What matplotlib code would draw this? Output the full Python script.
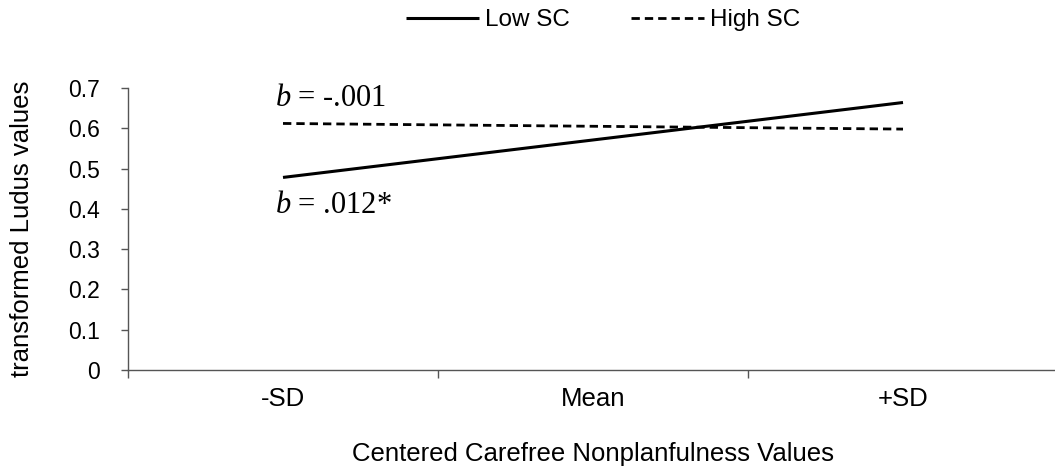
import numpy as np
import matplotlib
matplotlib.use("Agg")
import matplotlib.pyplot as plt

# values
categories = ["-SD", "Mean", "+SD"]
low_sc = [0.478, 0.571, 0.664]
high_sc = [0.612, 0.605, 0.598]
y_ticks = [0, 0.1, 0.2, 0.3, 0.4, 0.5, 0.6, 0.7]
y_tick_labels = ["0", "0.1", "0.2", "0.3", "0.4", "0.5", "0.6", "0.7"]
slope_low = "= .012*"
slope_high = "= -.001"

plt.rcParams['font.family'] = ['Liberation Sans', 'DejaVu Sans']
plt.rcParams['mathtext.fontset'] = 'custom'
plt.rcParams['mathtext.it'] = 'Liberation Serif:italic'
plt.rcParams['mathtext.rm'] = 'Liberation Serif'

fig = plt.figure(figsize=(10.55, 4.72), dpi=100)
ax = fig.add_axes([128/1055, 1 - 370/472, 930/1055, 282/472])

x = np.arange(len(categories))
ln_low, = ax.plot(x, low_sc, color='black', lw=2.2, solid_capstyle='butt', label="Low SC")
ln_high, = ax.plot(x, high_sc, color='black', lw=2.0, linestyle=(0, (3, 1.8)), label="High SC")

ax.set_xlim(-0.5, 2.5)
ax.set_ylim(0, 0.7)
ax.set_yticks(y_ticks)
ax.set_yticklabels(y_tick_labels)

# ticks at category boundaries, labels at centers
ax.set_xticks([-0.5, 0.5, 1.5, 2.5])
ax.set_xticklabels([])
ax.set_xticks(x, minor=True)
ax.set_xticklabels(categories, minor=True)
ax.tick_params(axis='x', which='minor', length=0, pad=12, labelsize=18.5)
ax.tick_params(axis='x', which='major', length=6, width=1, color='#555555', direction='out')
ax.tick_params(axis='y', length=5, width=1, color='#555555', labelsize=16.5, pad=15)

for side in ['top', 'right']:
    ax.spines[side].set_visible(False)
for side in ['left', 'bottom']:
    ax.spines[side].set_color('#555555')
    ax.spines[side].set_linewidth(1)

ax.set_ylabel("transformed Ludus values", fontsize=18.5)
ax.yaxis.set_label_coords((34 - 128) / 930, 0.5)
ax.set_xlabel("Centered Carefree Nonplanfulness Values", fontsize=18.5)
ax.xaxis.set_label_coords(0.5 - (1058 - 593 - 465) / 930, (370 - 442) / 282)

ax.text(-0.026, 0.655, r"$b$ " + slope_high, fontsize=22, family='Liberation Serif', va='baseline', ha='left')
ax.text(-0.026, 0.39, r"$b$ " + slope_low, fontsize=22, family='Liberation Serif', va='baseline', ha='left')

fig.legend(handles=[ln_low, ln_high], loc='center', bbox_to_anchor=(603/1055, 1 - 20/472),
           ncol=2, frameon=False, fontsize=17.5, handlelength=3.0, handletextpad=0.25,
           columnspacing=2.5)

fig.savefig("out.png", dpi=100)
